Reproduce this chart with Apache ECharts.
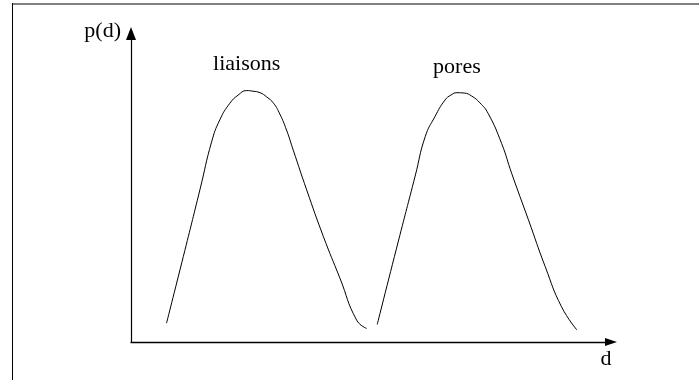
<!DOCTYPE html>
<html>
<head>
<meta charset="utf-8">
<script src="https://cdn.jsdelivr.net/npm/echarts@6/dist/echarts.min.js"></script>
<style>
    html, body { margin: 0; padding: 0; background: #fff; }
    #chart_main { width: 699px; height: 380px; }
</style>
</head>
<body>
<div id="chart_main"></div>
<script>
// points (d, p(d)), arbitrary units 0..10
var liaisonsD = [0.74, 1.09, 1.44, 1.68, 1.85, 2.06, 2.23, 2.41, 2.54, 2.69, 2.83, 2.97, 3.10, 3.24, 3.38, 3.66, 4.01, 4.35, 4.70, 4.91];
var liaisonsP = [0.61, 2.77, 4.96, 6.49, 7.20, 7.74, 8.00, 8.15, 8.13, 8.08, 7.94, 7.74, 7.39, 6.87, 6.22, 4.93, 3.41, 2.08, 0.71, 0.44];
var poresD = [5.13, 5.57, 5.92, 6.13, 6.33, 6.54, 6.67, 6.79, 6.94, 7.10, 7.27, 7.44, 7.72, 7.93, 8.28, 8.63, 8.97, 9.29];
var poresP = [0.57, 3.27, 5.38, 6.66, 7.30, 7.84, 8.01, 8.08, 8.07, 7.97, 7.75, 7.41, 6.44, 5.47, 3.96, 2.44, 1.14, 0.39];
var seriesNames = ['liaisons', 'pores'];
var axisNames = ['d', 'p(d)'];

$(function () {
    initChart();
});

function $(fn) {
    if (document.readyState !== 'loading') fn();
    else document.addEventListener('DOMContentLoaded', fn);
}

function pairs(xs, ys) {
    var out = [];
    for (var i = 0; i < xs.length; i++) {
        out.push([xs[i], ys[i]]);
    }
    return out;
}

function initChart() {
    var myChart = echarts.init(document.getElementById('chart_main'));
    var font = '"Liberation Serif", "Times New Roman", serif';

    function curve(name, data) {
        return {
            name: name,
            type: 'line',
            data: data,
            smooth: 0.5,
            showSymbol: false,
            lineStyle: { color: '#000', width: 1 },
            markPoint: {
                data: [{ type: 'max' }],
                symbolSize: 0,
                label: {
                    show: true,
                    position: 'top',
                    distance: 15,
                    formatter: name,
                    color: '#000',
                    fontFamily: font,
                    fontSize: 22
                }
            }
        };
    }

    var option = {
        animation: false,
        backgroundColor: '#fff',
        grid: { left: 131, right: 88, top: 33.5, bottom: 38 },
        xAxis: {
            type: 'value',
            min: 0,
            max: 10,
            name: axisNames[0],
            nameLocation: 'end',
            nameGap: -5,
            nameTextStyle: {
                color: '#000',
                fontFamily: font,
                fontSize: 22,
                align: 'center',
                verticalAlign: 'top',
                padding: [6, 0, 0, 0]
            },
            axisLine: {
                lineStyle: { color: '#000', width: 1.3 },
                symbol: ['none', 'triangle'],
                symbolSize: [8, 12]
            },
            axisTick: { show: false },
            axisLabel: { show: false },
            splitLine: { show: false }
        },
        yAxis: {
            type: 'value',
            min: 0,
            max: 10,
            name: axisNames[1],
            nameLocation: 'end',
            nameGap: 2,
            nameTextStyle: {
                color: '#000',
                fontFamily: font,
                fontSize: 22,
                align: 'right',
                verticalAlign: 'middle',
                padding: [0, 10, 0, 0]
            },
            axisLine: {
                show: true,
                lineStyle: { color: '#000', width: 1.2 },
                symbol: ['none', 'triangle'],
                symbolSize: [10, 13]
            },
            axisTick: { show: false },
            axisLabel: { show: false },
            splitLine: { show: false }
        },
        graphic: [
            {
                type: 'line',
                shape: { x1: 12, y1: 4, x2: 699, y2: 4 },
                style: { stroke: '#808080', lineWidth: 2 }
            },
            {
                type: 'line',
                shape: { x1: 12.5, y1: 3, x2: 12.5, y2: 380 },
                style: { stroke: '#000', lineWidth: 1 }
            }
        ],
        series: [
            curve(seriesNames[0], pairs(liaisonsD, liaisonsP)),
            curve(seriesNames[1], pairs(poresD, poresP))
        ]
    };

    myChart.setOption(option);
}
</script>
</body>
</html>
